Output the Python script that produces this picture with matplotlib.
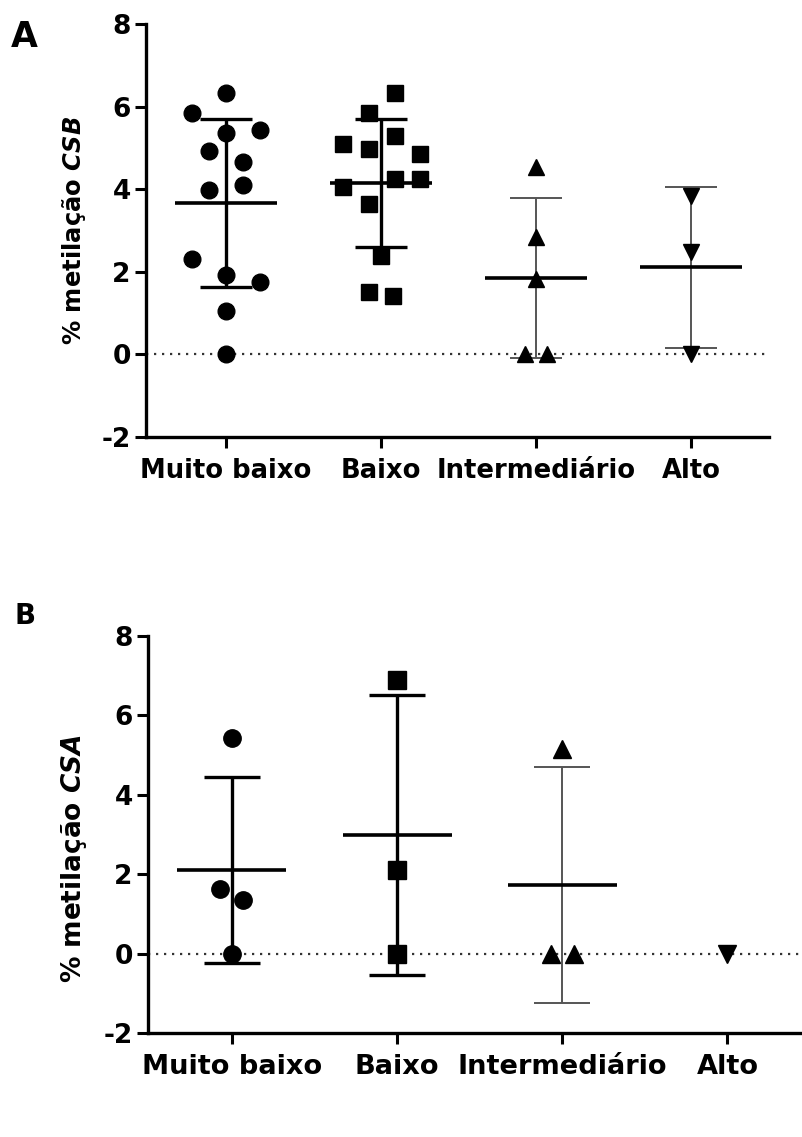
import numpy as np
import matplotlib
matplotlib.use('Agg')
import matplotlib.pyplot as plt

plt.rcParams['font.family'] = ['DejaVu Sans']
plt.rcParams['font.weight'] = 'bold'
plt.rcParams['axes.unicode_minus'] = False

groups = ['Muito baixo', 'Baixo', 'Intermediário', 'Alto']
markers = ['o', 's', '^', 'v']

# Panel A (CSB) values, with horizontal spread of each point
csb_muito_baixo = [6.33, 5.84, 5.44, 5.36, 4.93, 4.65, 3.97, 4.09, 2.31, 1.92, 1.76, 1.04, 0.0]
csb_muito_baixo_dx = [0, -0.22, 0.22, 0, -0.11, 0.11, -0.11, 0.11, -0.22, 0, 0.22, 0, 0]
csb_baixo = [6.33, 5.84, 5.29, 5.10, 4.97, 4.85, 4.25, 4.25, 4.05, 3.64, 2.39, 1.51, 1.42]
csb_baixo_dx = [0.09, -0.08, 0.09, -0.245, -0.08, 0.25, 0.09, 0.25, -0.245, -0.08, 0, -0.08, 0.08]
csb_intermediario = [4.54, 2.84, 1.83, 0.0, 0.0]
csb_intermediario_dx = [0, 0, 0, -0.07, 0.07]
csb_alto = [3.84, 2.48, 0.0]
csb_alto_dx = [0, 0, 0]

# Panel B (CSA)
csa_muito_baixo = [5.44, 1.62, 1.34, 0.0]
csa_muito_baixo_dx = [0, -0.07, 0.07, 0]
csa_baixo = [6.88, 2.10, 0.0]
csa_baixo_dx = [0, 0, 0]
csa_intermediario = [5.15, 0.0, 0.0]
csa_intermediario_dx = [0, -0.07, 0.07]
csa_alto = [0.0]
csa_alto_dx = [0]

# thick black error bars for the first two groups, thin grey for the others
bar_style = [('black', 2.4), ('black', 2.4), ('#555555', 1.4), ('#555555', 1.4)]


def panel(ax, values, offsets, ylabel, msize, xfs, yfs):
    ax.axhline(0, color='#333333', lw=1.6, ls=(0, (1, 2.6)), zorder=1)
    for i, (vals, dx) in enumerate(zip(values, offsets)):
        vals = np.array(vals)
        ax.plot(i + np.array(dx), vals, marker=markers[i], ls='none', color='black',
                markersize=msize, zorder=3)
        if len(vals) < 2:
            continue
        m = vals.mean()
        sd = vals.std(ddof=1)
        color, lw = bar_style[i]
        ax.vlines(i, m - sd, m + sd, color=color, lw=lw, zorder=2)
        ax.hlines([m - sd, m + sd], i - 0.17, i + 0.17, color=color, lw=lw, zorder=2)
        ax.hlines(m, i - 0.33, i + 0.33, color='black', lw=2.6, zorder=2)

    ax.set_ylim(-2, 8)
    ax.set_yticks([-2, 0, 2, 4, 6, 8])
    ax.set_xticks(range(len(groups)))
    ax.set_xticklabels(groups, fontsize=xfs, fontweight='bold')
    ax.tick_params(axis='y', labelsize=19, width=2.2, length=8, pad=3)
    ax.tick_params(axis='x', width=2.2, length=8, pad=7)
    for s in ['top', 'right']:
        ax.spines[s].set_visible(False)
    for s in ['left', 'bottom']:
        ax.spines[s].set_linewidth(2.4)
    ax.set_ylabel(ylabel, fontsize=yfs, fontweight='bold', labelpad=10)


fig = plt.figure(figsize=(8.03, 11.37), dpi=100)

axA = fig.add_axes([0.1818, 0.6157, 0.7758, 0.3632])
axA.set_xlim(-0.516, 3.503)
panel(axA,
      [csb_muito_baixo, csb_baixo, csb_intermediario, csb_alto],
      [csb_muito_baixo_dx, csb_baixo_dx, csb_intermediario_dx, csb_alto_dx],
      r'% metilação $\mathbfit{CSB}$', 12, 18.6, 17.5)

axB = fig.add_axes([0.1843, 0.0915, 0.8244, 0.3492])
axB.set_xlim(-0.508, 3.5)
panel(axB,
      [csa_muito_baixo, csa_baixo, csa_intermediario, csa_alto],
      [csa_muito_baixo_dx, csa_baixo_dx, csa_intermediario_dx, csa_alto_dx],
      r'% metilação $\mathbfit{CSA}$', 12.5, 19.6, 19)
axB.yaxis.set_label_coords(-0.089, 0.44)

fig.text(0.013, 1 - 20 / 1137, 'A', fontsize=25, fontweight='bold', va='top')
fig.text(0.018, 1 - 602 / 1137, 'B', fontsize=20, fontweight='bold', va='top')

fig.savefig('out.png', dpi=100)
